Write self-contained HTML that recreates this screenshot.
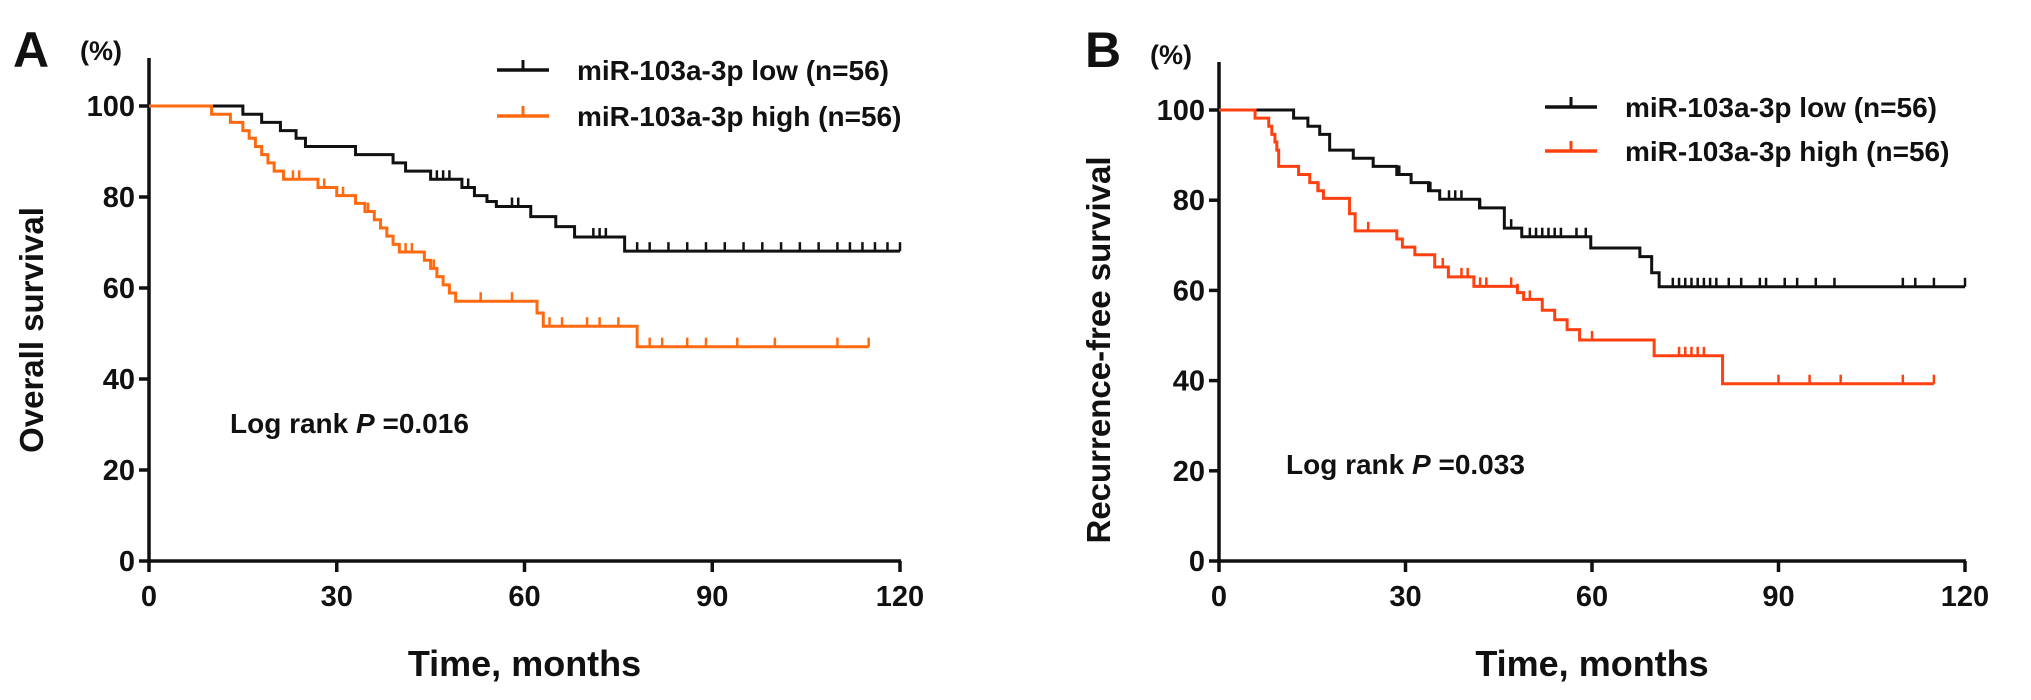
<!DOCTYPE html>
<html><head><meta charset="utf-8">
<style>
html,body{margin:0;padding:0;background:#fff;}
svg{display:block;}
text{font-family:"Liberation Sans",Arial,sans-serif;font-weight:bold;fill:#111;}
</style></head>
<body>
<svg id="chart" width="2031" height="700" viewBox="0 0 2031 700" xmlns="http://www.w3.org/2000/svg"></svg>
<script>
// ---- data (months, % survival) ----
const xTicks = [0, 30, 60, 90, 120];
const yTicks = [0, 20, 40, 60, 80, 100];

const aLowTimes = [0,15,18,21,23.5,25,33,39,41,45,50,52,54,55.5,61,65,68,76];
const aLowSurv  = [100,98.2,96.4,94.6,92.9,91.1,89.3,87.5,85.7,83.9,82.1,80.3,79,77.9,75.7,73.5,71.2,68.1];
const aLowEnd = 120;
const aLowCens = [46,47,48,51,52,58,59,71,72,73,78,80,83,86,89,92,95,98,101,104,107,110,112,114,116,118,120];

const aHighTimes = [0,10,13,15,16,17,18,19,20,21.5,27,30,33,34.5,36,37,38,39,40,44,45,46,47,48,49,62,63,78];
const aHighSurv  = [100,98.2,96.4,94.6,92.9,91.1,89.3,87.5,85.7,83.9,82.1,80.3,78.6,76.8,75,73.2,71.4,69.6,67.9,66.1,64.3,62.5,60.7,58.9,57.1,54.5,51.6,47.1];
const aHighEnd = 115;
const aHighCens = [23,24,28,31,35,37,41,42,45.5,53,58,64,66,70,72,75,80,82,86,89,94,100,110,115];

const bLowTimes = [0,12,14.3,16.2,17.8,21.6,24.8,28.6,30.9,33.7,35.5,41.9,45.9,48.7,59.8,67.7,69.6,70.8];
const bLowSurv  = [100,98.2,96.4,94.6,91.1,89.3,87.5,85.7,83.9,82.1,80.2,78.3,73.8,71.9,69.4,67.5,63.9,60.8];
const bLowEnd = 120;
const bLowCens = [29,34,37,38,39,42,47,50,51,52,53,54,55,57.5,59,73,74,75,76,77,78,79,80,82,84,87,88,91,93,96,99,110,112,115,120];

const bHighTimes = [0,5.8,8,8.5,9,9.3,9.6,12.8,14.6,15.9,16.8,21,21.9,28.6,29.5,31.5,34.7,36.9,41,48,49,52,54,56,58,70,81];
const bHighSurv  = [100,98.2,96.4,94.6,92.9,91.1,87.5,85.7,83.9,82.1,80.4,77,73.2,71.4,69.6,67.9,65.2,63,60.9,59.5,58,55.6,53.5,51.3,49,45.5,39.3];
const bHighEnd = 115;
const bHighCens = [16,24,36,39,40,42,43,47,48,50,52,60,74,75,76,77,78,90,95,100,110,115];

const svg = document.getElementById('chart');
const NS = 'http://www.w3.org/2000/svg';
function mk(tag, attrs, parent){
  const e = document.createElementNS(NS, tag);
  for (const k in attrs) e.setAttribute(k, attrs[k]);
  (parent||svg).appendChild(e);
  return e;
}
function survAt(times, surv, t){
  let v = surv[0];
  for (let i=0;i<times.length;i++){ if (times[i] <= t) v = surv[i]; }
  return v;
}

function panel(p){
  const g = mk('g', {});
  
  
  const X = t => p.x0 + (p.x1 - p.x0) * t / 120;
  const Y = v => p.y0 - (p.y0 - p.y100) * v / 100;

  const ya = mk('line', {x1:X(0), y1:p.yTop, x2:X(0), y2:Y(0)+2, stroke:'#111','stroke-width':3.5}, g);
  
  
  const xa = mk('line', {x1:X(0)-2, y1:Y(0), x2:X(120)+1, y2:Y(0), stroke:'#111','stroke-width':3.5}, g);
  
  

  yTicks.forEach(v => {
    mk('line', {x1:X(0)-10, y1:Y(v), x2:X(0), y2:Y(v), stroke:'#111','stroke-width':3.5}, g);
    const t = mk('text', {x:X(0)-14, y:Y(v)+10, 'text-anchor':'end','font-size':29}, g);
    t.textContent = v;
    
    
  });
  xTicks.forEach(v => {
    mk('line', {x1:X(v), y1:Y(0), x2:X(v), y2:Y(0)+11, stroke:'#111','stroke-width':3.5}, g);
    const t = mk('text', {x:X(v), y:Y(0)+45, 'text-anchor':'middle','font-size':29}, g);
    t.textContent = v;
    
    
  });

  const xt = mk('text', {x:(X(0)+X(120))/2, y:p.xTitleY, 'text-anchor':'middle','font-size':36}, g);
  xt.textContent = 'Time, months';
  
  
  const yt = mk('text', {x:0, y:0, 'text-anchor':'middle','font-size':33,
    transform:`translate(${p.yTitleX},${p.yTitleY}) rotate(-90)`}, g);
  yt.textContent = p.yTitle;
  
  
  const pl = mk('text', {x:p.labelX, y:67, 'font-size':50,'font-weight':'normal'}, g);
  pl.textContent = p.label;
  
  
  const pc = mk('text', {x:p.pctX, y:p.pctY, 'font-size':27}, g);
  pc.textContent = '(%)';
  
  

  const lr = mk('text', {x:p.lrX, y:p.lrY, 'font-size':28}, g);
  
  
  lr.appendChild(document.createTextNode('Log rank '));
  const it = mk('tspan', {'font-style':'italic'}, lr); it.textContent = 'P';
  lr.appendChild(document.createTextNode(' =' + p.pval));

  p.series.forEach(s => {
    let d = `M${X(0)},${Y(s.surv[0])}`;
    for (let i=1;i<s.times.length;i++){
      d += ` H${X(s.times[i])} V${Y(s.surv[i])}`;
    }
    d += ` H${X(s.end)}`;
    const path = mk('path', {d, fill:'none', stroke:s.color, 'stroke-width':3}, g);
    
    
    s.cens.forEach(c => {
      const yy = Y(survAt(s.times, s.surv, c));
      const tk = mk('line', {x1:X(c), y1:yy, x2:X(c), y2:yy-9, stroke:s.color,'stroke-width':2.5}, g);
      
      
    });
  });

  p.series.forEach((s, i) => {
    const ly = p.legY + i*p.legGap;
    const le = mk('g', {}, g);
    
    
    mk('line', {x1:p.legX, y1:ly, x2:p.legX+52, y2:ly, stroke:s.color,'stroke-width':3.5}, le);
    mk('line', {x1:p.legX+26, y1:ly, x2:p.legX+26, y2:ly-10, stroke:s.color,'stroke-width':3}, le);
    const t = mk('text', {x:p.legX+80, y:ly+10, 'font-size':28}, le);
    t.textContent = s.label;
  });
}

panel({name:'panel-a-overall-survival', x0:149, x1:900, y0:561, y100:106, yTop:58,
  xTitleY:676, yTitle:'Overall survival', yTitleX:43, yTitleY:330,
  label:'A', labelX:13, pctX:80, pctY:60, lrX:230, lrY:433, pval:'0.016',
  legX:497, legY:70, legGap:46,
  series:[
    {name:'low', label:'miR-103a-3p low (n=56)', color:'#111', times:aLowTimes, surv:aLowSurv, end:aLowEnd, cens:aLowCens},
    {name:'high', label:'miR-103a-3p high (n=56)', color:'#ff6a10', times:aHighTimes, surv:aHighSurv, end:aHighEnd, cens:aHighCens}
  ]});

panel({name:'panel-b-recurrence-free-survival', x0:1219, x1:1965, y0:561, y100:110, yTop:62,
  xTitleY:676, yTitle:'Recurrence-free survival', yTitleX:1110, yTitleY:350,
  label:'B', labelX:1085, pctX:1150, pctY:64, lrX:1286, lrY:474, pval:'0.033',
  legX:1545, legY:107, legGap:44,
  series:[
    {name:'low', label:'miR-103a-3p low (n=56)', color:'#111', times:bLowTimes, surv:bLowSurv, end:bLowEnd, cens:bLowCens},
    {name:'high', label:'miR-103a-3p high (n=56)', color:'#ff4010', times:bHighTimes, surv:bHighSurv, end:bHighEnd, cens:bHighCens}
  ]});
</script>
</body></html>
